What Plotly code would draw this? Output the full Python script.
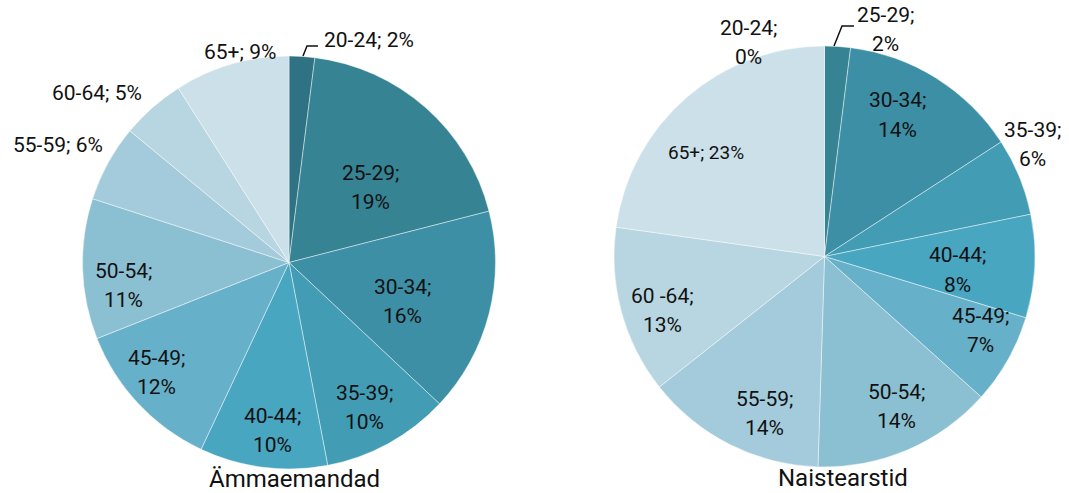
import plotly.graph_objects as go

W, H = 1069, 493

# Age groups and their shares (%) for the two professions
age_groups = ["20-24", "25-29", "30-34", "35-39", "40-44",
              "45-49", "50-54", "55-59", "60-64", "65+"]
age_labels_right = ["20-24", "25-29", "30-34", "35-39", "40-44",
                    "45-49", "50-54", "55-59", "60 -64", "65+"]
midwives_pct = [2, 19, 16, 10, 10, 12, 11, 6, 5, 9]
gynecologists_pct = [0, 2, 14, 6, 8, 7, 14, 14, 13, 23]
titles = ["Ämmaemandad", "Naistearstid"]

colors = ["#2E7283", "#368394", "#3D8FA5", "#429CB4", "#48A6C1",
          "#66B1C9", "#8BC0D2", "#A3CBDB", "#B8D6E1", "#CCE0E9"]

FONT = "Roboto"
TEXT = "#111111"

# Pie placement in pixels: (center x, center y, radius)
pies = [(289, 262.5, 206.5), (824.5, 256.5, 210.5)]


def dom(cx, cy, r):
    return dict(x=[(cx - r) / W, (cx + r) / W],
                y=[1 - (cy + r) / H, 1 - (cy - r) / H])


fig = go.Figure()
series = [(age_groups, midwives_pct), (age_labels_right, gynecologists_pct)]
for i, (labels, vals) in enumerate(series):
    fig.add_trace(go.Pie(
        labels=labels, values=vals, sort=False, direction="clockwise",
        rotation=0, domain=dom(*pies[i]),
        marker=dict(colors=colors, line=dict(color="rgba(255,255,255,0.55)", width=0.8)),
        textinfo="none", hoverinfo="label+percent", showlegend=False,
    ))

# Label anchor positions (px) and number of lines for each slice label
label_layout = [
    # left pie
    [(369, 40, 1), (370, 187, 2), (402, 301, 2), (364, 407, 2), (273, 430, 2),
     (156, 372, 2), (123, 285, 2), (58, 145, 1), (97, 93, 1), (240, 52, 1)],
    # right pie
    [(748, 43, 2), (885, 30, 2), (897, 115, 2), (1032, 145, 2), (957, 270, 2),
     (980, 330, 2), (896, 406, 2), (764, 413, 2), (662, 310, 2), (706, 153, 1)],
]
label_sizes = [[21] * 10, [21] * 9 + [19]]
LINE_GAP = 29


def add_text(x, y, text, size):
    return dict(x=x / W, y=1 - y / H, xref="paper", yref="paper",
                text=text, showarrow=False, xanchor="center", yanchor="middle",
                font=dict(family=FONT, size=size, color=TEXT))


annotations = []
for i, (labels, vals) in enumerate(series):
    for j, (lab, v) in enumerate(zip(labels, vals)):
        x, y, nl = label_layout[i][j]
        size = label_sizes[i][j]
        if nl == 1:
            annotations.append(add_text(x, y, f"{lab}; {v}%", size))
        else:
            annotations.append(add_text(x, y - LINE_GAP / 2, f"{lab};", size))
            annotations.append(add_text(x, y + LINE_GAP / 2, f"{v}%", size))

title_pos = [(294, 479), (843, 478)]
for t, (x, y) in zip(titles, title_pos):
    annotations.append(add_text(x, y, t, 24))

# Leader lines for the thin top slices
leaders = [[(303, 56), (307, 46), (318, 46)],
           [(834, 46), (842, 26), (854, 26)]]
shapes = []
for pts in leaders:
    path = "M " + " L ".join(f"{px / W:.5f},{1 - py / H:.5f}" for px, py in pts)
    shapes.append(dict(type="path", path=path, xref="paper", yref="paper",
                       line=dict(color=TEXT, width=1.5)))

fig.update_layout(
    width=W, height=H, margin=dict(l=0, r=0, t=0, b=0),
    paper_bgcolor="white", plot_bgcolor="white",
    annotations=annotations, shapes=shapes,
)

fig.write_html("out.html")
